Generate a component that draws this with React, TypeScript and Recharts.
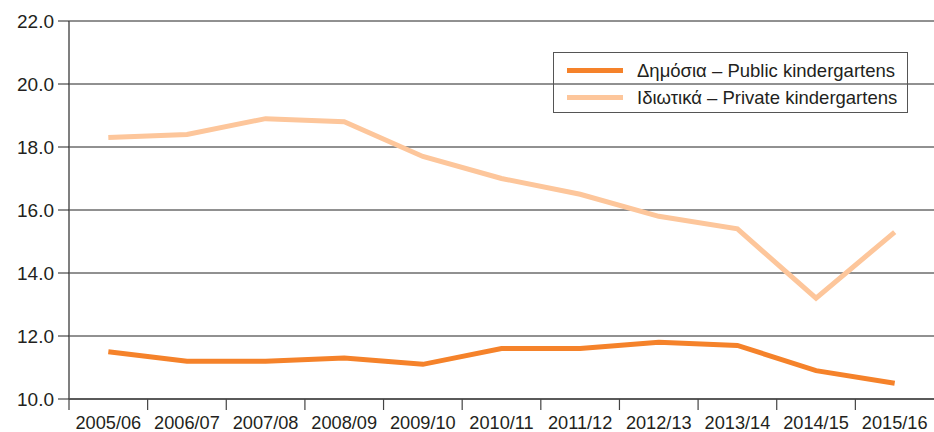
import { LineChart, Line, XAxis, YAxis, CartesianGrid, Legend } from "recharts";

const years = [
  "2005/06", "2006/07", "2007/08", "2008/09", "2009/10", "2010/11",
  "2011/12", "2012/13", "2013/14", "2014/15", "2015/16",
];
const publicRatio = [11.5, 11.2, 11.2, 11.3, 11.1, 11.6, 11.6, 11.8, 11.7, 10.9, 10.5];
const privateRatio = [18.3, 18.4, 18.9, 18.8, 17.7, 17.0, 16.5, 15.8, 15.4, 13.2, 15.3];
const yTicks = [10, 12, 14, 16, 18, 20, 22];

const PUBLIC_LABEL = "Δημόσια – Public kindergartens";
const PRIVATE_LABEL = "Ιδιωτικά – Private kindergartens";

const data = years.map((year, i) => ({
  year,
  public: publicRatio[i],
  private: privateRatio[i],
}));

const FONT = "'Liberation Sans', Arial, Helvetica, sans-serif";
const TEXT = "#231f20";
const ORANGE = "#f5822a";
const PEACH = "#fdc69b";

const TICK_SIZE = 11;
const TICK_MARGIN = 6;

// category axis with tick marks on the band boundaries, labels in the middle
const YearTick = (props: any) => {
  const { x, y, payload } = props;
  const half = payload?.offset ?? 0;
  const axisY = y - TICK_SIZE - TICK_MARGIN;
  return (
    <g>
      <line x1={x - half} x2={x - half} y1={axisY} y2={axisY + TICK_SIZE} stroke="#444" strokeWidth={1.2} />
      <text x={x} y={y} dy="0.71em" textAnchor="middle" fill={TEXT} fontSize={18.2} fontFamily={FONT}>
        {payload.value}
      </text>
    </g>
  );
};

const LegendBox = () => (
  <div
    style={{
      border: "1.5px solid #555",
      width: 355,
      height: 61,
      boxSizing: "border-box",
      fontFamily: FONT,
      fontSize: 18.5,
      color: TEXT,
      padding: "4px 0 0 13px",
      textAlign: "left",
    }}
  >
    {[
      { label: PUBLIC_LABEL, color: ORANGE },
      { label: PRIVATE_LABEL, color: PEACH },
    ].map((item) => (
      <div key={item.label} style={{ display: "flex", alignItems: "center", height: 27 }}>
        <span style={{ display: "inline-block", width: 56, height: 5, background: item.color, marginRight: 14 }} />
        <span>{item.label}</span>
      </div>
    ))}
  </div>
);

export default function App() {
  return (
    <div style={{ position: "absolute", left: 0, top: 0, background: "#fff" }}>
      <LineChart width={934} height={432} data={data} margin={{ top: 21, right: 0, left: 0, bottom: 0 }}>
        <CartesianGrid vertical={false} stroke="#222" strokeWidth={1} />
        <XAxis
          dataKey="year"
          scale="band"
          height={33}
          tickLine={false}
          tickSize={TICK_SIZE}
          tickMargin={TICK_MARGIN}
          axisLine={{ stroke: "#222" }}
          tick={<YearTick />}
          interval={0}
        />
        <YAxis
          width={69}
          domain={[10, 22]}
          ticks={yTicks}
          tickFormatter={(v: number) => v.toFixed(1)}
          tickSize={11}
          tickMargin={4}
          axisLine={{ stroke: "#555", strokeWidth: 1.5 }}
          tickLine={{ stroke: "#222" }}
          tick={{ fill: TEXT, fontSize: 19, fontFamily: FONT }}
        />
        <Legend
          layout="horizontal"
          verticalAlign="middle"
          align="center"
          content={<LegendBox />}
          wrapperStyle={{ position: "absolute", left: 553, top: 52, width: "auto" }}
        />
        <Line
          dataKey="public"
          name={PUBLIC_LABEL}
          stroke={ORANGE}
          strokeWidth={5}
          dot={false}
          isAnimationActive={false}
        />
        <Line
          dataKey="private"
          name={PRIVATE_LABEL}
          stroke={PEACH}
          strokeWidth={5}
          dot={false}
          isAnimationActive={false}
        />
      </LineChart>
    </div>
  );
}
